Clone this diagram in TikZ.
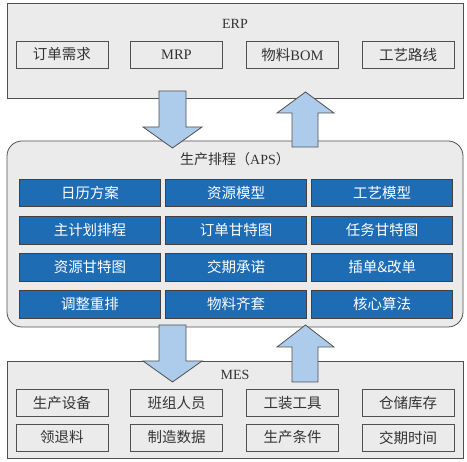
\documentclass[tikz,border=0pt]{standalone}
\usepackage{fontspec}
\setmainfont{Liberation Serif}
\newfontfamily\cjk{Noto Sans CJK SC}
\usetikzlibrary{positioning}

\definecolor{panelgray}{HTML}{EBEBEB}
\definecolor{linegray}{HTML}{505050}
\definecolor{apsblue}{HTML}{1E6CB3}
\definecolor{arrowblue}{HTML}{ADCBEA}

\begin{document}
\begin{tikzpicture}[x=1pt, y=-1pt,
  panel/.style={draw=linegray, fill=panelgray, line width=0.8pt},
  title/.style={text=black!80, font=\cjk\fontsize{14}{16}\selectfont},
  item/.style={draw=linegray, fill=panelgray, line width=0.8pt,
    minimum width=92pt, minimum height=27pt, inner sep=0pt,
    text=black!80, font=\cjk\fontsize{14.5}{16}\selectfont},
  task/.style={draw=black!75, fill=apsblue, line width=0.6pt,
    minimum width=141pt, minimum height=27.5pt, inner sep=0pt,
    text=white, font=\cjk\fontsize{14.5}{16}\selectfont},
  bigarrow/.style={draw=linegray, fill=arrowblue, line width=0.8pt}]

  \useasboundingbox (0,0) rectangle (467,462);

  % ERP
  \node[panel, minimum width=456pt, minimum height=95pt] (erp) at (235,50.5) {};
  \node[title] (erptitle) at (235,24) {\rmfamily ERP};
  \node[item] (order) at (62,54.5) {订单需求};
  \node[item] (mrp) at (176.5,54.5) {\rmfamily MRP};
  \node[item] (bom) at (292.5,54.5) {物料{\rmfamily BOM}};
  \node[item] (route) at (408,54.5) {工艺路线};

  % APS
  \node[panel, rounded corners=15pt, minimum width=456pt, minimum height=186pt] (aps) at (235,234) {};
  \node[title] (apstitle) at (235,159) {生产排程（{\rmfamily APS}）};
  \node[task] (cal) at (90,193) {日历方案};
  \node[task, right=4.5pt of cal] (resmodel) {资源模型};
  \node[task, right=4.5pt of resmodel] (procmodel) {工艺模型};
  \node[task, below=9pt of cal] (mps) {主计划排程};
  \node[task, right=4.5pt of mps] (ordergantt) {订单甘特图};
  \node[task, right=4.5pt of ordergantt] (taskgantt) {任务甘特图};
  \node[task, below=9pt of mps] (resgantt) {资源甘特图};
  \node[task, right=4.5pt of resgantt] (promise) {交期承诺};
  \node[task, right=4.5pt of promise] (insert) {插单\&改单};
  \node[task, below=9pt of resgantt] (adjust) {调整重排};
  \node[task, right=4.5pt of adjust] (kitting) {物料齐套};
  \node[task, right=4.5pt of kitting] (algo) {核心算法};

  % MES
  \node[panel, minimum width=456pt, minimum height=97pt] (mes) at (235,409.5) {};
  \node[title] (mestitle) at (235,375) {\rmfamily MES};
  \node[item] (equip) at (62,403) {生产设备};
  \node[item] (team) at (176.5,403) {班组人员};
  \node[item] (tools) at (292.5,403) {工装工具};
  \node[item] (stock) at (408,403) {仓储库存};
  \node[item] (picking) at (62,437.5) {领退料};
  \node[item] (mfgdata) at (176.5,437.5) {制造数据};
  \node[item] (cond) at (292.5,437.5) {生产条件};
  \node[item] (lead) at (408,437.5) {交期时间};

  % block arrows
  \draw[bigarrow] (159,91) -- (186,91) -- (186,127) -- (202,127) -- (172.5,148)
    -- (143,127) -- (159,127) -- cycle;
  \draw[bigarrow] (292,147) -- (318,147) -- (318,113) -- (334,113) -- (305.5,92)
    -- (277,113) -- (292,113) -- cycle;
  \draw[bigarrow] (159,325) -- (186,325) -- (186,361) -- (202,361) -- (172.5,382)
    -- (143,361) -- (159,361) -- cycle;
  \draw[bigarrow] (292,382) -- (318,382) -- (318,347) -- (334,347) -- (305.5,325)
    -- (277,347) -- (292,347) -- cycle;
\end{tikzpicture}
\end{document}
